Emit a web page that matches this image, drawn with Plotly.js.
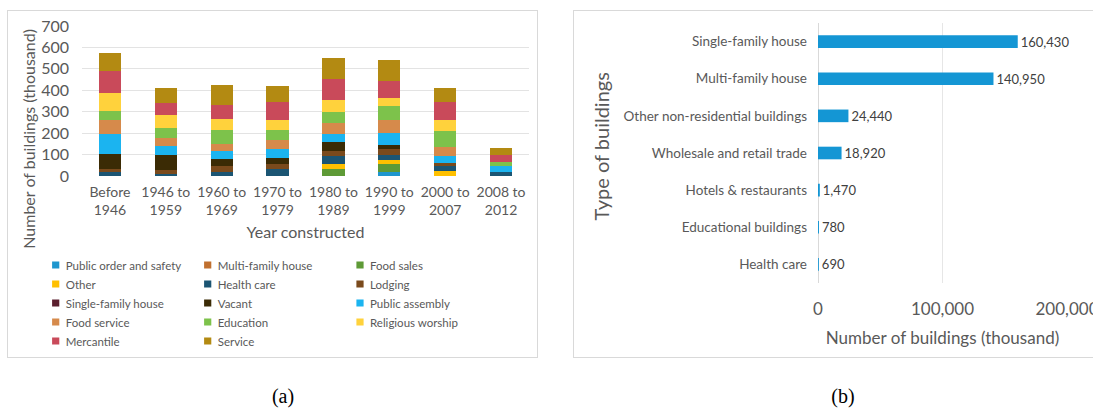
<!DOCTYPE html>
<html>
<head>
<meta charset="utf-8">
<script src="https://cdn.plot.ly/plotly-3.0.1.min.js"></script>
<style>
  html, body { margin: 0; padding: 0; background: #ffffff; overflow: hidden; }
  body { width: 1093px; height: 408px; position: relative; }
  .panel { position: absolute; border: 1px solid #d9d9d9; background: #fff; }
  #chartA { left: 7px; top: 10px; width: 529px; height: 346px; }
  #chartB { left: 573px; top: 10px; width: 540px; height: 346px; }
  .cap { position: absolute; top: 385px; font-family: "Liberation Serif", "Times New Roman", serif;
         font-size: 20px; color: #000; transform: translateX(-50%); }
</style>
</head>
<body>
<div id="chartA" class="panel"></div>
<div id="chartB" class="panel"></div>
<div class="cap" style="left:283px">(a)</div>
<div class="cap" style="left:843px">(b)</div>
<script>
// ---- (a) buildings by construction period and use (thousand) ----
const periods = ["Before<br>1946", "1946 to<br>1959", "1960 to<br>1969", "1970 to<br>1979",
                 "1980 to<br>1989", "1990 to<br>1999", "2000 to<br>2007", "2008 to<br>2012"];

const usePublicOrder    = [0,   0,   0,   0,   0,   18,  0,   0];
const useMultiFamily    = [0,   0,   0,   0,   0,   0,   0,   0];
const useFoodSales      = [0,   0,   0,   0,   31,  40,  0,   0];
const useOther          = [0,   0,   0,   0,   23,  18,  23,  0];
const useHealthCare     = [18,  11,  18,  31,  39,  23,  23,  20];
const useLodging        = [15,  17,  28,  23,  23,  26,  15,  0];
const useSingleFamily   = [0,   0,   0,   0,   0,   0,   0,   0];
const useVacant         = [71,  68,  34,  31,  42,  20,  0,   0];
const usePublicAssembly = [90,  43,  39,  39,  39,  54,  34,  26];
const useFoodService    = [68,  39,  32,  46,  51,  62,  40,  0];
const useEducation      = [43,  46,  65,  43,  49,  66,  73,  18];
const useReligious      = [83,  60,  49,  49,  56,  39,  54,  0];
const useMercantile     = [102, 59,  65,  82,  99,  77,  82,  36];
const useService        = [85,  66,  94,  77,  97,  99,  65,  31];

// ---- (b) buildings by type ----
const buildingTypes = ["Single-family house", "Multi-family house", "Other non-residential buildings",
                       "Wholesale and retail trade", "Hotels & restaurants", "Educational buildings", "Health care"];
const buildingCounts = [160430, 140950, 24440, 18920, 1470, 780, 690];

// series in stacking order, with the legend column each belongs to
const series = [
  { name: "Public order and safety", y: usePublicOrder,    color: "#1E96CE", legend: "legend"  },
  { name: "Multi-family house",      y: useMultiFamily,    color: "#C0702F", legend: "legend2" },
  { name: "Food sales",              y: useFoodSales,      color: "#5E9A36", legend: "legend3" },
  { name: "Other",                   y: useOther,          color: "#FFC000", legend: "legend"  },
  { name: "Health care",             y: useHealthCare,     color: "#1B5573", legend: "legend2" },
  { name: "Lodging",                 y: useLodging,        color: "#7A4A1C", legend: "legend3" },
  { name: "Single-family house",     y: useSingleFamily,   color: "#5B1F2E", legend: "legend"  },
  { name: "Vacant",                  y: useVacant,         color: "#3B2B05", legend: "legend2" },
  { name: "Public assembly",         y: usePublicAssembly, color: "#1BB4F0", legend: "legend3" },
  { name: "Food service",            y: useFoodService,    color: "#D68A4B", legend: "legend"  },
  { name: "Education",               y: useEducation,      color: "#7DC24B", legend: "legend2" },
  { name: "Religious worship",       y: useReligious,      color: "#FFD23C", legend: "legend3" },
  { name: "Mercantile",              y: useMercantile,     color: "#C94A5A", legend: "legend"  },
  { name: "Service",                 y: useService,        color: "#B38A12", legend: "legend2" }
];

const FONT = "Lato, 'Open Sans', sans-serif";
const GREY = "#595959";

// ---------- panel (a) ----------
const A = { W: 529, H: 346, l: 74, r: 8, t: 14.5, b: 180.5 };
const aW = A.W - A.l - A.r, aH = A.H - A.t - A.b;

const tracesA = series.map(s => ({
  type: "bar", x: periods, y: s.y, name: s.name, legend: s.legend,
  marker: { color: s.color, line: { width: 0 } },
  hoverinfo: "name+y"
}));

function legendAt(px, py) {
  return {
    xref: "container", yref: "container",
    x: px / A.W, y: 1 - py / A.H, xanchor: "left", yanchor: "top",
    orientation: "v", traceorder: "normal", bgcolor: "rgba(0,0,0,0)",
    font: { family: FONT, size: 11.5, color: GREY }, itemclick: false, itemdoubleclick: false
  };
}

const layoutA = {
  width: A.W, height: A.H,
  margin: { l: A.l, r: A.r, t: A.t, b: A.b, autoexpand: false },
  paper_bgcolor: "#ffffff", plot_bgcolor: "#ffffff",
  barmode: "stack", bargap: 0.6,
  font: { family: FONT, color: GREY },
  showlegend: true,
  legend:  legendAt(17.7, 239.5),
  legend2: legendAt(169.7, 239.5),
  legend3: legendAt(322, 239.5),
  xaxis: {
    type: "category", showgrid: false, zeroline: false, showline: false, ticks: "",
    tickfont: { family: FONT, size: 14, color: GREY }, ticklabelstandoff: 6,
    title: { text: "Year constructed", font: { family: FONT, size: 16, color: GREY }, standoff: 9 },
    automargin: false
  },
  yaxis: {
    range: [0, 700], dtick: 100, showgrid: true, gridcolor: "#e3e3e3", gridwidth: 1,
    zeroline: false, showline: false, ticks: "",
    tickfont: { family: FONT, size: 16, color: GREY }, ticklabelstandoff: 12,
    automargin: false
  },
  annotations: [{
    text: "Number of buildings (thousand)", textangle: -90, showarrow: false,
    xref: "paper", yref: "paper",
    x: (21 - A.l) / aW, y: (A.H - A.b - 128) / aH, xanchor: "center", yanchor: "middle",
    font: { family: FONT, size: 16, color: GREY }
  }]
};

// smaller legend swatches, set close to their labels
function tightenSwatches(gd) {
  gd.querySelectorAll(".legendpoints path").forEach(p => {
    p.setAttribute("transform", "translate(30,0) scale(0.6)");
  });
}

Plotly.newPlot("chartA", tracesA, layoutA, { staticPlot: true, displayModeBar: false })
  .then(gd => tightenSwatches(gd));

// ---------- panel (b) ----------
const B = { W: 540, H: 346, l: 244.3, r: 47.3, t: 12, b: 74 };
const bW = B.W - B.l - B.r, bH = B.H - B.t - B.b;

const traceB = {
  type: "bar", orientation: "h", x: buildingCounts, y: buildingTypes,
  marker: { color: "#1496D4", line: { width: 0 } },
  texttemplate: "%{x:,}", textposition: "outside", constraintext: "none", cliponaxis: false,
  textfont: { family: FONT, size: 13, color: "#404040" },
  hoverinfo: "x+y", showlegend: false
};

const layoutB = {
  width: B.W, height: B.H,
  margin: { l: B.l, r: B.r, t: B.t, b: B.b, autoexpand: false },
  paper_bgcolor: "#ffffff", plot_bgcolor: "#ffffff",
  bargap: 0.66,
  font: { family: FONT, color: GREY },
  xaxis: {
    range: [0, 200000], tickvals: [0, 100000, 200000], tickformat: ",d",
    showgrid: true, gridcolor: "#e6e6e6", zeroline: true, zerolinecolor: "#d9d9d9", zerolinewidth: 1,
    showline: false, ticks: "",
    tickfont: { family: FONT, size: 17, color: GREY }, ticklabelstandoff: 14,
    title: { text: "Number of buildings (thousand)", font: { family: FONT, size: 17, color: GREY }, standoff: 14 },
    automargin: false
  },
  yaxis: {
    type: "category", autorange: "reversed", showgrid: false, zeroline: false, showline: false, ticks: "",
    tickfont: { family: FONT, size: 13.5, color: GREY }, ticklabelstandoff: 10,
    automargin: false
  },
  annotations: [{
    text: "Type of buildings", textangle: -90, showarrow: false,
    xref: "paper", yref: "paper",
    x: (27.7 - B.l) / bW, y: (B.H - B.b - 135.5) / bH, xanchor: "center", yanchor: "middle",
    font: { family: FONT, size: 20, color: GREY }
  }]
};

Plotly.newPlot("chartB", [traceB], layoutB, { staticPlot: true, displayModeBar: false });
</script>
</body>
</html>
